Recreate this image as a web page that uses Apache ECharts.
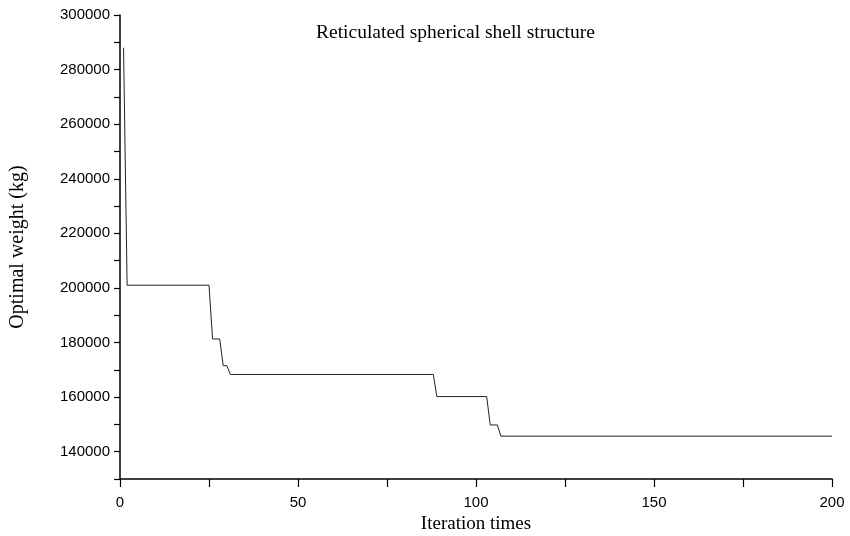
<!DOCTYPE html>
<html>
<head>
<meta charset="utf-8">
<script src="https://cdn.jsdelivr.net/npm/echarts@6/dist/echarts.min.js"></script>
<style>
  html, body { margin: 0; padding: 0; background: #fff; }
  #chart { width: 850px; height: 536px; }
</style>
</head>
<body>
<div id="chart"></div>
<script>
// Iterations at which the best weight changes (the line is straight between them)
var iterations = [1, 2, 25, 26, 28, 29, 30, 31, 88, 89, 103, 104, 106, 107, 200];
// Best weight found so far (kg) at each of those iterations
var weights = [288000, 201000, 201000, 181300, 181300, 171500, 171500, 168300,
               168300, 160200, 160200, 149800, 149800, 145700, 145700];

var xTickLabels = [0, 50, 100, 150, 200];
var yTickLabels = [140000, 160000, 180000, 200000, 220000, 240000, 260000, 280000, 300000];

var points = iterations.map(function (it, i) { return [it, weights[i]]; });

var serif = '"Liberation Serif", "Times New Roman", serif';
var sans = '"Liberation Sans", Arial, sans-serif';

var chart = echarts.init(document.getElementById('chart'), null, { renderer: 'canvas' });
chart.setOption({
  backgroundColor: '#ffffff',
  animation: false,
  title: {
    text: 'Reticulated spherical shell structure',
    left: 311,
    top: 18,
    textStyle: { fontFamily: serif, fontSize: 19.5, fontWeight: 'normal', color: '#000' }
  },
  grid: { left: 120, right: 18, top: 15, bottom: 57, containLabel: false, outerBoundsMode: 'none' },
  xAxis: {
    type: 'value',
    min: 0,
    max: 200,
    interval: 25,
    name: 'Iteration times',
    nameLocation: 'middle',
    nameGap: 33,
    nameTextStyle: { fontFamily: serif, fontSize: 19, color: '#000' },
    axisLine: { show: true, onZero: false, lineStyle: { color: '#000', width: 1.5 } },
    axisTick: { show: true, length: 8, lineStyle: { color: '#000', width: 1.2 } },
    axisLabel: {
      margin: 16,
      fontFamily: sans,
      fontSize: 15,
      color: '#000',
      formatter: function (v) { return xTickLabels.indexOf(v) >= 0 ? String(v) : ''; }
    },
    splitLine: { show: false }
  },
  yAxis: {
    type: 'value',
    min: 130000,
    max: 300000,
    interval: 10000,
    name: 'Optimal weight (kg)',
    nameLocation: 'middle',
    nameGap: 92,
    nameTextStyle: { fontFamily: serif, fontSize: 20, color: '#000' },
    axisLine: { show: true, onZero: false, lineStyle: { color: '#000', width: 1.5 } },
    axisTick: { show: true, length: 6, lineStyle: { color: '#000', width: 1.2 } },
    axisLabel: {
      margin: 10,
      fontFamily: sans,
      fontSize: 15,
      color: '#000',
      formatter: function (v) { return yTickLabels.indexOf(v) >= 0 ? String(v) : ''; }
    },
    splitLine: { show: false }
  },
  series: [{
    type: 'line',
    data: points,
    showSymbol: false,
    symbol: 'none',
    lineStyle: { color: '#222', width: 1 },
    clip: true
  }]
});
</script>
</body>
</html>
